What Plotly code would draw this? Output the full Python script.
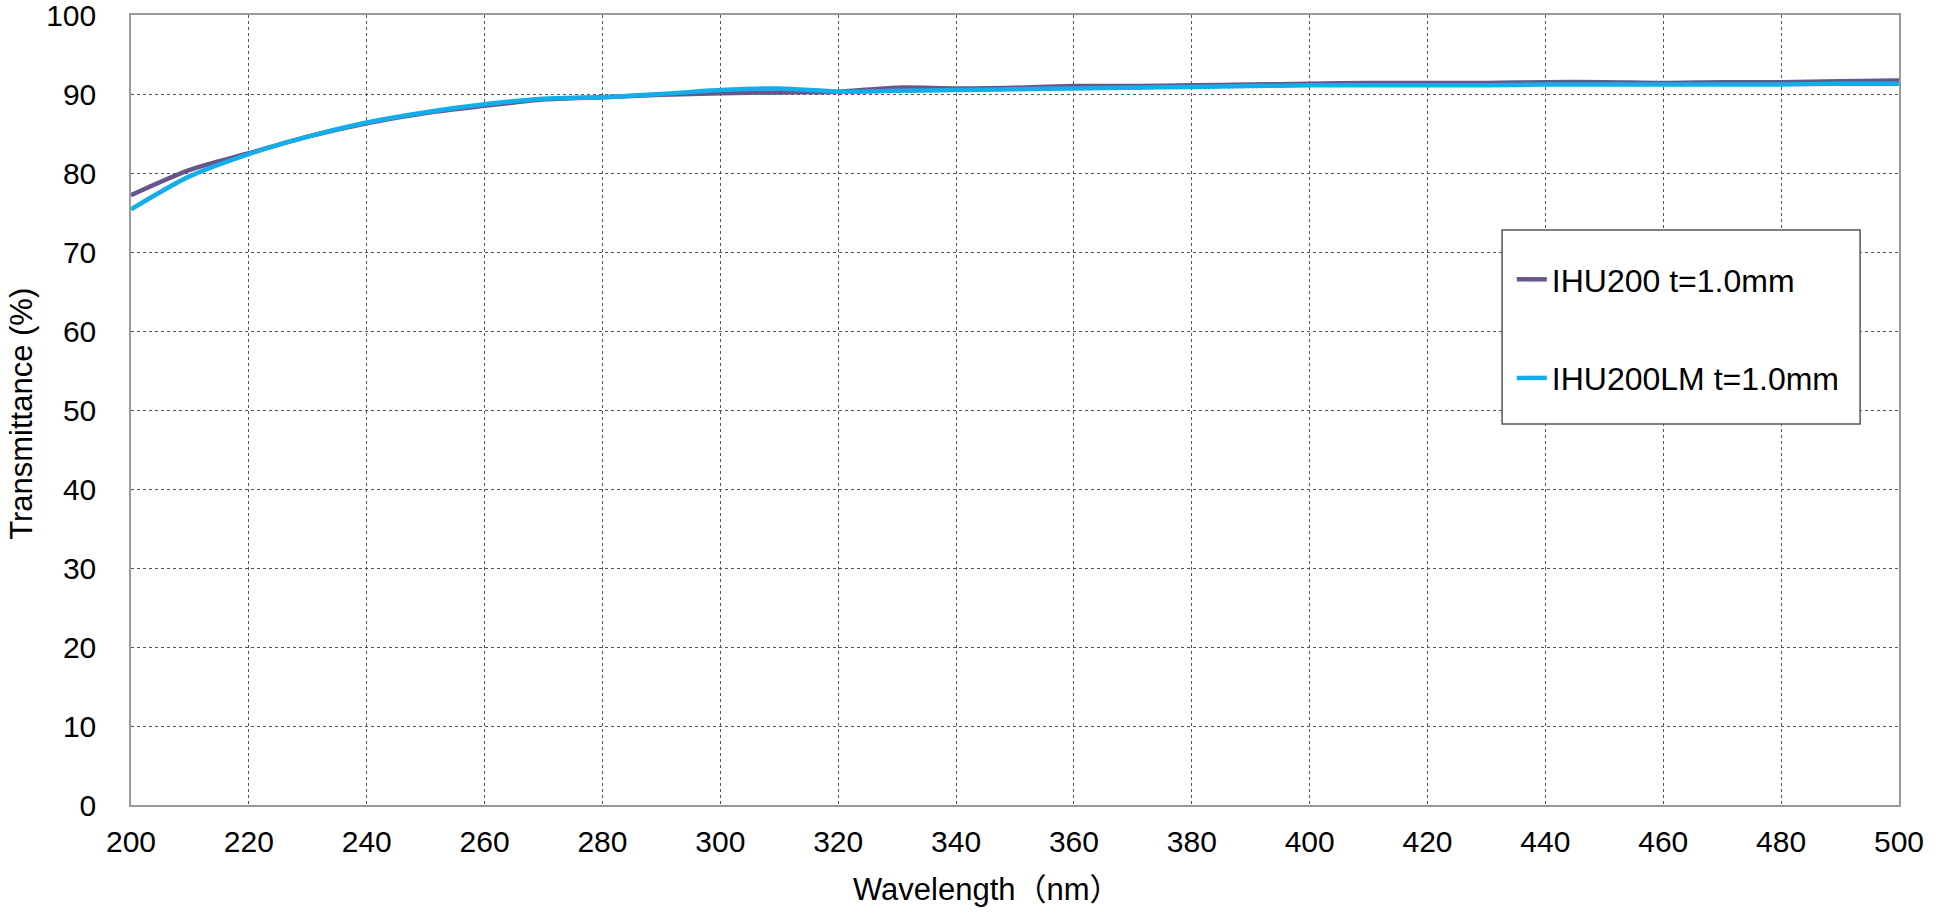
import plotly.graph_objects as go

# wavelength (nm)
wavelength = list(range(200, 501, 10))

# transmittance (%)
ihu200 = [77.2, 80.4, 82.5, 84.6, 86.3, 87.6, 88.5, 89.3, 89.6, 89.9,
          90.1, 90.2, 90.3, 90.8, 90.7, 90.8, 91.0, 91.0, 91.1, 91.2,
          91.3, 91.4, 91.4, 91.4, 91.5, 91.5, 91.4, 91.5, 91.5, 91.6, 91.7]
ihu200lm = [75.4, 79.6, 82.4, 84.6, 86.4, 87.7, 88.7, 89.4, 89.6, 90.0,
            90.5, 90.7, 90.3, 90.4, 90.5, 90.6, 90.7, 90.8, 90.9, 91.0,
            91.1, 91.1, 91.1, 91.1, 91.2, 91.2, 91.2, 91.2, 91.2, 91.3, 91.3]

names = ["IHU200 t=1.0mm", "IHU200LM t=1.0mm"]
colors = ["#67558C", "#12AEEA"]

font_family = "Liberation Sans, Arial, Noto Sans CJK JP, sans-serif"

fig = go.Figure()
for i, (name, ys) in enumerate(zip(names, [ihu200, ihu200lm])):
    fig.add_trace(go.Scatter(
        x=wavelength, y=ys, name=name, mode="lines",
        legendgroup=f"g{i}",
        line=dict(color=colors[i], width=4.5, shape="spline", smoothing=0.8)
    ))

axis_common = dict(
    showgrid=True, gridcolor="#555555", gridwidth=1, griddash="dot",
    showline=True, linecolor="#9a9a9a", linewidth=1.5, mirror=True,
    zeroline=False, ticks="", tickfont=dict(size=30, color="#000000"),
    ticklabeloverflow="allow", automargin=False,
)

fig.update_xaxes(range=[200, 500], dtick=20, tick0=200,
                 ticklabelstandoff=9, **axis_common)
fig.update_yaxes(range=[0, 100], dtick=10,
                 ticklabelstandoff=27, **axis_common)

# axis titles as annotations so they land where the original has them
fig.add_annotation(
    text="Wavelength（nm）", xref="paper", yref="paper",
    x=0.484, y=-0.107, xanchor="center", yanchor="middle",
    showarrow=False, font=dict(size=31, color="#000000"),
)
fig.add_annotation(
    text="Transmittance (%)", xref="paper", yref="paper",
    x=-0.0617, y=0.495, xanchor="center", yanchor="middle",
    textangle=-90, showarrow=False, font=dict(size=31, color="#000000"),
)

# legend frame
fig.add_shape(type="rect", xref="paper", yref="paper",
              x0=0.7755, x1=0.978, y0=0.4823, y1=0.7278,
              line=dict(color="#555555", width=1.5), fillcolor="white", layer="above")

fig.update_layout(
    width=1950, height=917,
    margin=dict(l=131, r=51, t=15, b=112),
    paper_bgcolor="white", plot_bgcolor="white",
    font=dict(family=font_family, color="#000000"),
    showlegend=True,
    legend=dict(
        x=0.781, y=0.70, xanchor="left", yanchor="top",
        bgcolor="rgba(0,0,0,0)", borderwidth=0,
        font=dict(size=32, color="#000000"),
        tracegroupgap=54, itemwidth=30,
    ),
)

fig.write_html("out.html", config={"displayModeBar": False},
               post_script="document.body.style.margin='0';")
